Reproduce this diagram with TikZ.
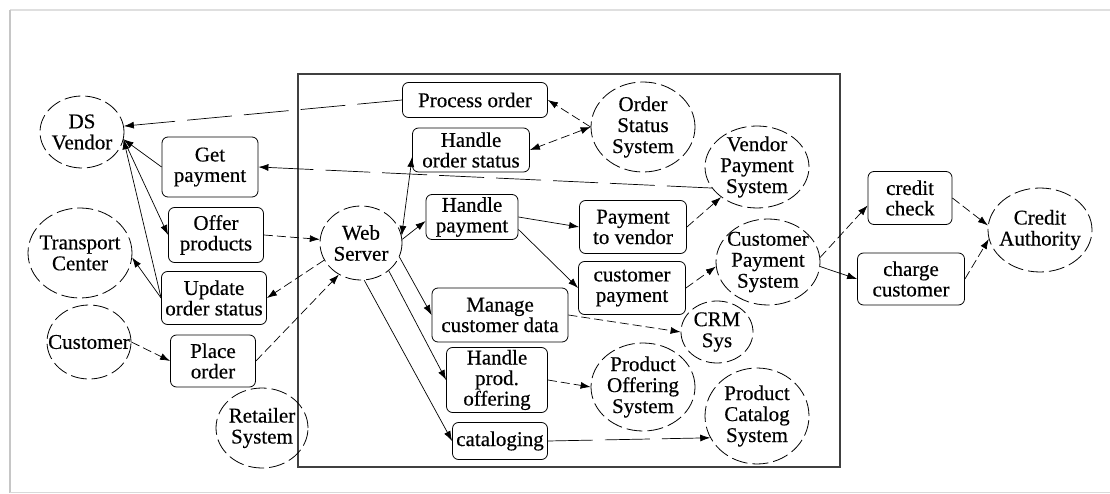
\documentclass[tikz,border=0pt]{standalone}
\usepackage{fontspec}
\setmainfont{Liberation Serif}[FakeBold=0.4]
\usetikzlibrary{shapes.geometric,arrows.meta,calc}
\tikzset{
  box/.style={draw, rounded corners=6pt, line width=0.8pt, align=center, inner xsep=2pt, inner ysep=1pt,
    font=\fontsize{21}{20.5}\selectfont},
  sys/.style={draw, ellipse, line width=0.8pt, dash pattern=on 16pt off 5pt, inner sep=0pt},
  lab/.style={align=center, font=\fontsize{21}{21}\selectfont, inner sep=0pt},
  con/.style={line width=0.7pt, -{Latex[length=10pt,width=7pt]}},
  bicon/.style={line width=0.7pt, {Latex[length=10pt,width=7pt]}-{Latex[length=10pt,width=7pt]}},
  dsh/.style={dash pattern=on 9pt off 4pt},
  ldsh/.style={dash pattern=on 45pt off 12pt},
}
\newcommand{\sysnode}[6]{% name, x, y, rx, ry, text
  \node[sys, minimum width=#4*2pt, minimum height=#5*2pt,
        label={[lab]center:#6}] (#1) at (#2,#3) {};}
\begin{document}
\begin{tikzpicture}[x=1pt, y=-1pt]
\useasboundingbox (0,0) rectangle (1110,494);
% outer page frame
\draw[gray!25, line width=1.2pt] (1110,10) -- (10,10);
\draw[gray!45, line width=2.5pt] (10,10) -- (10,493);
\draw[gray!30, line width=1.5pt] (10,492.5) -- (1110,492.5);
% inner system boundary
\draw[black!75, line width=1.4pt] (298,74) rectangle (840,467);

% external entities / systems (dashed ellipses)
\sysnode{dsv}{82}{132}{42}{36}{DS\\Vendor}
\sysnode{trans}{80}{253}{52}{45}{Transport\\Center}
\sysnode{cust}{89}{342}{42}{37}{Customer}
\sysnode{ret}{262}{428}{46}{40}{Retailer\\System}
\sysnode{web}{361}{243}{41}{37}{Web\\Server}
\sysnode{oss}{643}{127}{52}{45}{Order\\Status\\System}
\sysnode{vps}{757}{167}{52}{41}{Vendor\\Payment\\System}
\sysnode{cps}{768}{262}{52}{43}{Customer\\Payment\\System}
\sysnode{crm}{717}{332}{36}{31}{CRM\\Sys}
\sysnode{pos}{643}{387}{52}{44}{Product\\Offering\\System}
\sysnode{pcs}{757}{416}{52}{48}{Product\\Catalog\\System}
\sysnode{ca}{1040}{230}{52}{42}{Credit\\Authority}

% processes (rounded boxes)
\node[box, minimum width=96pt, minimum height=60pt] (getpay) at (210,167) {Get\\payment};
\node[box, minimum width=95pt, minimum height=55pt] (offer) at (216,235) {Offer\\products};
\node[box, minimum width=105pt, minimum height=53pt] (upd) at (214,298) {Update\\order status};
\node[box, minimum width=85pt, minimum height=52pt] (place) at (213,361) {Place\\order};
\node[box, minimum width=145pt, minimum height=35pt] (porder) at (475,100) {Process order};
\node[box, minimum width=117pt, minimum height=44pt] (hos) at (471,150) {Handle\\order status};
\node[box, minimum width=92pt, minimum height=45pt] (hpay) at (472,217) {Handle\\payment};
\node[box, minimum width=107pt, minimum height=53pt] (ptv) at (633,227) {Payment\\to vendor};
\node[box, minimum width=107pt, minimum height=53pt] (cpay) at (632,288) {customer\\payment};
\node[box, minimum width=136pt, minimum height=54pt] (mcd) at (500,315) {Manage\\customer data};
\node[box, minimum width=101pt, minimum height=65pt] (hpo) at (497,380) {Handle\\prod.\\offering};
\node[box, minimum width=95pt, minimum height=37pt] (cat) at (500,441) {cataloging};
\node[box, minimum width=84pt, minimum height=53pt] (cchk) at (910,198) {credit\\check};
\node[box, minimum width=107pt, minimum height=52pt] (chg) at (911,279) {charge\\customer};

% connectors
\coordinate (dsvin) at (dsv.-10);
\draw[con, ldsh] (porder.west) -- (dsv.8);
\draw[con] (getpay.west) -- (dsvin);
\draw[con] (dsvin) -- (offer.west);
\draw[con] (upd.west) -- (dsvin);
\draw[con] (upd.west) -- (trans.-5);
\draw[con, dsh] (offer.east) -- (web.175);
\draw[con, dsh] (web.205) -- (upd.east);
\draw[con, dsh] (place.east) -- (web.235);
\draw[con, dsh] (cust.east) -- (place.west);
\draw[con, ldsh] (vps.205) -- (getpay.east);
\draw[bicon] (web.10) -- ($(hos.west)+(0,7)$);
\draw[con] (web.5) -- ($(hpay.west)+(0,4)$);
\draw[con, dsh] (oss.west) -- (porder.east);
\draw[bicon, dsh] (oss.west) -- (hos.east);
\draw[con] (hpay.east) -- (ptv.west);
\draw[con] (hpay.-15) -- (cpay.west);
\draw[con, dsh] (ptv.east) -- (vps.220);
\draw[con, dsh] (cpay.east) -- (cps.185);
\draw[con] (web.-20) -- (mcd.west);
\draw[con, dsh] (mcd.east) -- (crm.west);
\draw[con] (web.-45) -- (hpo.west);
\draw[con, dsh] (hpo.east) -- (pos.west);
\draw[con] (web.-85) -- (cat.west);
\draw[con, ldsh] (cat.east) -- (pcs.205);
\draw[con, dsh] (cps.5) -- (cchk.190);
\draw[con] (cps.-5) -- (chg.west);
\draw[con, dsh] (cchk.east) -- (ca.175);
\draw[con, dsh] (chg.east) -- (ca.190);
\end{tikzpicture}
\end{document}
